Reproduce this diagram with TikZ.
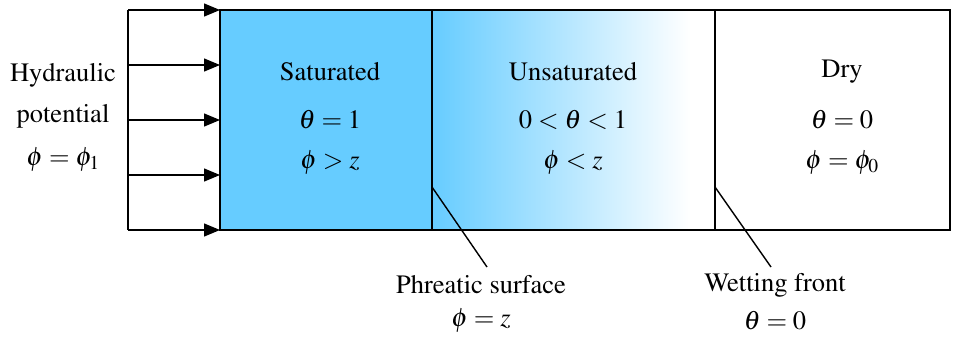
\documentclass[tikz,border=0pt]{standalone}
\usepackage[T1]{fontenc}
\usepackage{mathptmx}
\usetikzlibrary{arrows.meta}
\definecolor{satblue}{RGB}{102,204,255}
\begin{document}
\begin{tikzpicture}[x=1pt,y=-1pt,
  lbl/.style={inner sep=0pt,font=\rmfamily\fontsize{26.5}{31}\selectfont,anchor=center},
  inarrow/.style={line width=1.3pt,-{Triangle[length=16pt,width=13pt]}},
  wall/.style={line width=2.8pt},
  leader/.style={line width=1.4pt}]
\useasboundingbox (0,0) rectangle (954,338);
% regions
\fill[satblue] (220,10) rectangle (432,230);
\shade[left color=satblue,right color=white] (432,10) rectangle (690,230);
% box
\draw[wall] (220,10) rectangle (950,230);
\coordinate (ph top) at (432,10);
\coordinate (ph bot) at (432,230);
\coordinate (wf top) at (715,10);
\coordinate (wf bot) at (715,230);
\draw[wall] (ph top) -- (ph bot);
\draw[wall] (wf top) -- (wf bot);
% inflow arrows
\coordinate (bar top) at (128,10);
\coordinate (bar bot) at (128,230);
\draw[line width=1.3pt] (bar top) -- (bar bot);
\foreach \y/\n in {10/a,65/b,120/c,175/d,230/e}{
  \coordinate (s\n) at (128,\y);
  \coordinate (t\n) at (220,\y);
  \draw[inarrow] (s\n) -- (t\n);
}
% left labels
\node[lbl] (hyd) at (63,75) {Hydraulic};
\node[lbl] (pot) at (63,116) {potential};
\node[lbl] (phi1) at (63,160) {$\phi=\phi_1$};
% region labels
\node[lbl] (sat) at (330,72) {Saturated};
\node[lbl] (sat1) at (330,120) {$\theta=1$};
\node[lbl] (sat2) at (330,163) {$\phi>z$};
\node[lbl] (uns) at (573,72) {Unsaturated};
\node[lbl] (uns1) at (573,120) {$0<\theta<1$};
\node[lbl] (uns2) at (573,163) {$\phi<z$};
\node[lbl] (dry) at (842,72) {Dry};
\node[lbl] (dry1) at (842,120) {$\theta=0$};
\node[lbl] (dry2) at (842,163) {$\phi=\phi_0$};
% bottom labels
\node[lbl] (phr) at (481,285) {Phreatic surface};
\node[lbl] (phr1) at (481,321) {$\phi=z$};
\node[lbl] (wet) at (775,285) {Wetting front};
\node[lbl] (wet1) at (775,321) {$\theta=0$};
% leaders
\coordinate (ph mid) at (432,187);
\coordinate (ph end) at (487,267);
\coordinate (wf mid) at (715,187);
\coordinate (wf end) at (771,267);
\draw[leader] (ph mid) -- (ph end);
\draw[leader] (wf mid) -- (wf end);
\end{tikzpicture}
\end{document}
